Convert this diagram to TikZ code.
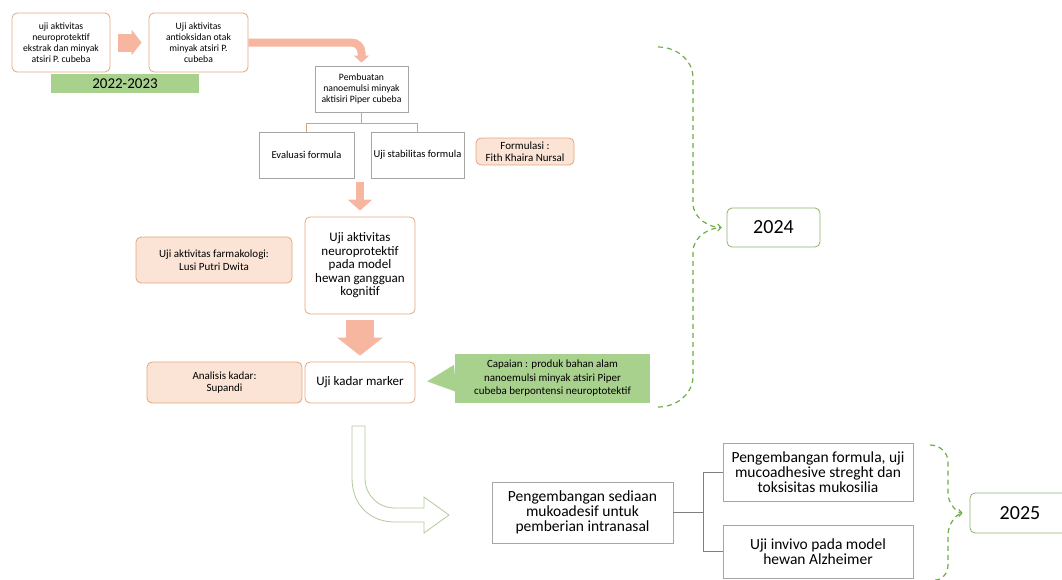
\documentclass[tikz,border=0pt]{standalone}
\usepackage{fontspec}
\setmainfont{Carlito}
\usetikzlibrary{arrows.meta}
\definecolor{salmon}{HTML}{F7B6A0}
\definecolor{boxorange}{HTML}{E3A77F}
\definecolor{salmonfill}{HTML}{FBE3D5}
\definecolor{boxgrey}{HTML}{A6A6A6}
\definecolor{linegrey}{HTML}{7F7F7F}
\definecolor{linetan}{HTML}{D2A47E}
\definecolor{leafgreen}{HTML}{A9D18E}
\definecolor{bracegreen}{HTML}{70AD47}
\definecolor{yeargreen}{HTML}{8DB36B}
\definecolor{hollowgreen}{HTML}{B4C99A}

\begin{document}
\begin{tikzpicture}[x=1pt,y=-1pt,
    every node/.style={align=center,inner sep=1pt},
    rbox/.style={draw=boxorange,line width=0.8pt,rounded corners=5pt,fill=white},
    sbox/.style={rbox,fill=salmonfill},
    gbox/.style={draw=boxgrey,line width=0.8pt,fill=white},
    ybox/.style={draw=yeargreen,line width=0.8pt,rounded corners=5pt,fill=white,
      font=\fontsize{20}{22}\selectfont},
    txtS/.style={font=\fontsize{9.7}{11}\selectfont},
    txtM/.style={font=\fontsize{11}{12.5}\selectfont},
    txtL/.style={font=\fontsize{13}{13.5}\selectfont},
    txtXL/.style={font=\fontsize{15.5}{15}\selectfont},
    fatarrow/.style={draw=salmon},
    tree/.style={line width=0.8pt},
    brace/.style={draw=bracegreen,line width=1.2pt,dash pattern=on 5pt off 4pt}]
  \useasboundingbox (0,0) rectangle (1062,579);
  \clip (0,0) rectangle (1062,579);

  \node[rbox,txtS,minimum width=98,minimum height=59] (ujiekstrak) at (61,42.5)
    {uji aktivitas\\neuroprotektif\\ekstrak dan minyak\\atsiri P. cubeba};
  \node[rbox,txtS,minimum width=99,minimum height=59] (ujiantiok) at (198.5,42.5)
    {Uji aktivitas\\antioksidan otak\\minyak atsiri P.\\cubeba};
  \node[fill=leafgreen,font=\fontsize{15}{16}\selectfont,minimum width=148,
    minimum height=19] (th2022) at (125,83.5) {2022-2023};

  \node[gbox,txtS,minimum width=93,minimum height=46] (pembuatan) at (361.5,89)
    {Pembuatan\\nanoemulsi minyak\\aktisiri Piper cubeba};
  \node[gbox,font=\fontsize{10.5}{12}\selectfont,minimum width=95,minimum height=46]
    (evaluasi) at (306.5,155) {Evaluasi formula};
  \node[gbox,font=\fontsize{10.5}{12}\selectfont,minimum width=93,minimum height=46]
    (stabilitas) at (417.5,155) {Uji stabilitas formula};
  \node[sbox,txtM,minimum width=98,minimum height=27] (formulasi) at (525,151.5)
    {Formulasi :\\Fith Khaira Nursal};

  \node[rbox,txtL,minimum width=110,minimum height=97] (neuro) at (360,265.5)
    {Uji aktivitas\\neuroprotektif\\pada model\\hewan gangguan\\kognitif};
  \node[sbox,txtM,minimum width=156,minimum height=46] (farmako) at (214,260)
    {Uji aktivitas farmakologi:\\Lusi Putri Dwita};
  \node[rbox,txtL,minimum width=110,minimum height=41] (kadar) at (360,382.5)
    {Uji kadar marker};
  \node[sbox,txtM,minimum width=155,minimum height=41] (analisis) at (224.5,382.5)
    {Analisis kadar:\\Supandi};
  \node[fill=leafgreen,txtM,font=\fontsize{11}{13.5}\selectfont,minimum width=195,
    minimum height=49] (capaian) at (552.5,378.5)
    {Capaian : produk bahan alam\\nanoemulsi minyak atsiri Piper\\cubeba berpontensi neuroptotektif};
  \node[ybox,minimum width=93,minimum height=39] (th2024) at (773.5,227.5) {2024};

  \node[gbox,txtXL,minimum width=181,minimum height=61] (mukoadesif) at (582.5,512.5)
    {Pengembangan sediaan\\mukoadesif untuk\\pemberian intranasal};
  \node[gbox,txtXL,minimum width=190,minimum height=58] (formula) at (818,472)
    {Pengembangan formula, uji\\mucoadhesive streght dan\\toksisitas mukosilia};
  \node[gbox,txtXL,minimum width=190,minimum height=53] (invivo) at (818,551.5)
    {Uji invivo pada model\\hewan Alzheimer};
  \node[ybox,minimum width=100,minimum height=40] (th2025) at (1020,513) {2025};

  \draw[fatarrow,line width=18pt,-{Triangle[width=25pt,length=10pt]},
    shorten <=8pt,shorten >=7pt] (ujiekstrak) -- (ujiantiok);
  \draw[fatarrow,line width=8pt,rounded corners=10pt,
    -{Triangle[width=15pt,length=7pt]},shorten >=3pt] (ujiantiok.east) -| (pembuatan.north);
  \draw[fatarrow,line width=8pt,-{Triangle[width=24pt,length=11pt]},
    shorten <=4pt,shorten >=6pt] (neuro.north |- evaluasi.south) -- (neuro.north);
  \draw[fatarrow,line width=28pt,-{Triangle[width=45pt,length=18pt]},
    shorten <=6pt,shorten >=6pt] (neuro) -- (kadar);
  \draw[leafgreen,line width=0.1pt,-{Triangle[width=27pt,length=28pt]},
    shorten >=12pt] (capaian.west) -- (kadar.east);

  \draw[tree,linetan] (pembuatan.south) -- ++(0,11) -| (evaluasi.north);
  \draw[tree,linetan] (pembuatan.south) -- ++(0,11) -| (stabilitas.north);
  \draw[tree,linegrey] (mukoadesif.east) -- ++(30,0) |- (formula.west);
  \draw[tree,linegrey] (mukoadesif.east) -- ++(30,0) |- (invivo.west);

  \coordinate (b24top) at (658,47);
  \coordinate (b24bot) at (658,407);
  \draw[brace,-{Straight Barb[length=3pt,width=7pt]},shorten >=5pt]
    (b24top) to[out=0,in=90] (693,78) -- (693,203) to[out=-90,in=180] (th2024.west);
  \draw[brace,shorten >=5pt]
    (b24bot) to[out=0,in=-90] (693,376) -- (693,252) to[out=90,in=180] (th2024.west);
  \coordinate (b25top) at (930,445);
  \coordinate (b25bot) at (935,580);
  \draw[brace,-{Straight Barb[length=3pt,width=7pt]},shorten >=7pt]
    (b25top) to[out=0,in=90] (948,462) -- (948,493) to[out=-90,in=180] (th2025.west);
  \draw[brace,shorten >=7pt]
    (b25bot) to[out=0,in=-90] (948,565) -- (948,535) to[out=90,in=180] (th2025.west);

  \draw[hollowgreen,line width=0.8pt,fill=white]
    (352,426) -- (352,478) .. controls (352,505) and (370,522) .. (395,522)
    -- (424,522) -- (424,533) -- (449,515) -- (424,497) -- (424,508) -- (395,508)
    .. controls (378,508) and (365,495) .. (365,478) -- (365,426) -- cycle;
\end{tikzpicture}
\end{document}
